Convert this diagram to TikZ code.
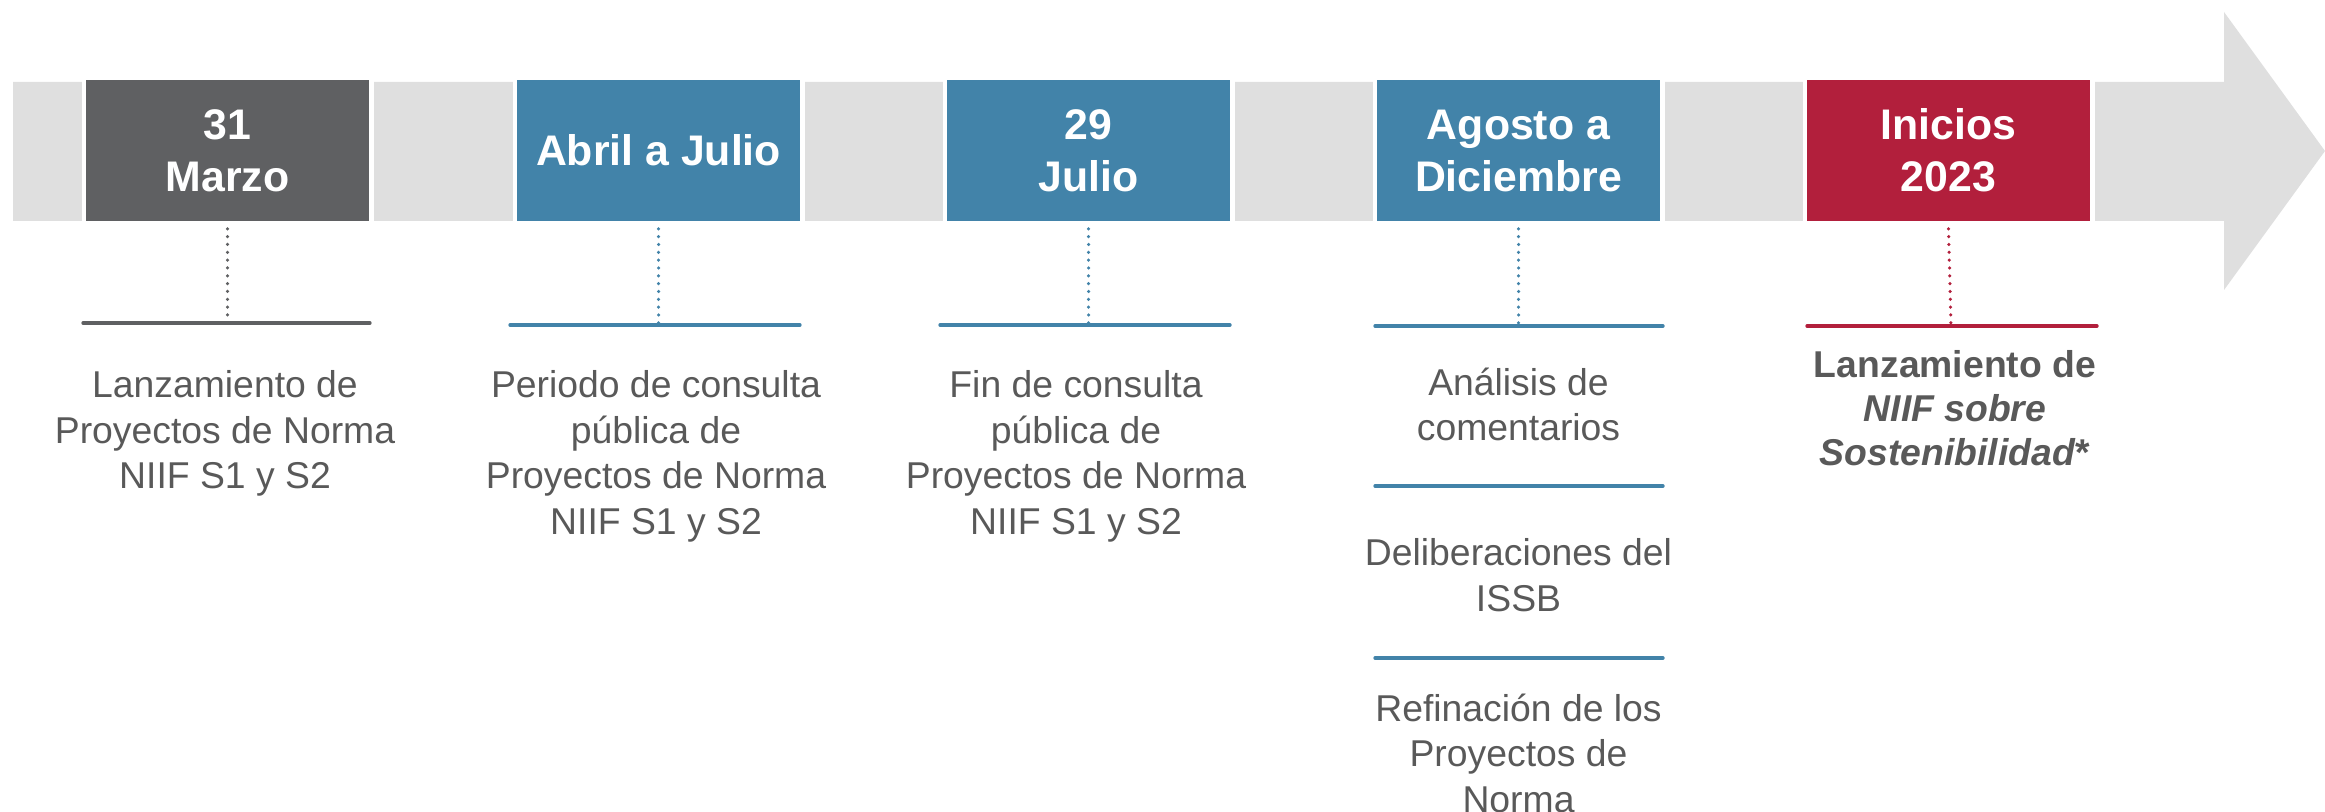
\documentclass[tikz,border=0pt]{standalone}
\usepackage{fontspec}
\setmainfont{Liberation Sans}
\definecolor{bandgray}{HTML}{DFDFDF}
\definecolor{darkbox}{HTML}{5F6062}
\definecolor{bluebox}{HTML}{4283A9}
\definecolor{redbox}{HTML}{B21F3C}
\definecolor{txtgray}{HTML}{595959}
\tikzset{
  datebox/.style={draw=white, line width=1.35pt, minimum width=86.25pt, minimum height=43.65pt,
    inner sep=0pt, align=center, text=white, font=\fontsize{12.84}{15.6}\selectfont\bfseries},
  desc/.style={align=center, text=txtgray, inner sep=0pt, font=\fontsize{11.2}{13.65}\selectfont},
  stem/.style={line width=1.05pt, line cap=round, dash pattern=on 0pt off 2.35pt},
  rule/.style={line width=1pt, line cap=round}
}
\begin{document}
\begin{tikzpicture}[x=0.3pt,y=-0.3pt]
\useasboundingbox (0,0) rectangle (2325,812);
% band arrow
\fill[bandgray] (13,82) -- (2224,82) -- (2224,12) -- (2325,151) -- (2224,290) -- (2224,221) -- (13,221) -- cycle;
% date boxes
\node[datebox, fill=darkbox] (b1) at (227.5,150.5) {31\\Marzo};
\node[datebox, fill=bluebox] (b2) at (658.5,150.5) {Abril a Julio};
\node[datebox, fill=bluebox] (b3) at (1088.5,150.5) {29\\Julio};
\node[datebox, fill=bluebox] (b4) at (1518.5,150.5) {Agosto a\\Diciembre};
\node[datebox, fill=redbox] (b5) at (1948.5,150.5) {Inicios\\2023};
% rule coordinates
\coordinate (r1) at (227.5,323);
\coordinate (r2) at (658.5,325);
\coordinate (r3) at (1088.5,325);
\coordinate (r4) at (1518.5,326);
\coordinate (r5) at (1951,326);
\draw[stem, darkbox] ([yshift=-1]b1.south) -- (r1);
\draw[stem, bluebox] ([yshift=-1]b2.south) -- (r2);
\draw[stem, bluebox] ([yshift=-1]b3.south) -- (r3);
\draw[stem, bluebox] ([yshift=-1]b4.south) -- (r4);
\draw[stem, redbox] ([yshift=-1]b5.south) -- (r5);
\draw[rule, darkbox] (83,323) -- (370,323);
\draw[rule, bluebox] (510,325) -- (800,325);
\draw[rule, bluebox] (940,325) -- (1230,325);
\draw[rule, bluebox] (1375,326) -- (1663,326);
\draw[rule, bluebox] (1375,486) -- (1663,486);
\draw[rule, bluebox] (1375,658) -- (1663,658);
\draw[rule, redbox] (1807,326) -- (2097,326);
% descriptions
\node[desc] (d1) at (225,433.5) {Lanzamiento de\\Proyectos de Norma\\NIIF S1 y S2};
\node[desc] (d2) at (656,456.5) {Periodo de consulta\\pública de\\Proyectos de Norma\\NIIF S1 y S2};
\node[desc] (d3) at (1076,456.5) {Fin de consulta\\pública de\\Proyectos de Norma\\NIIF S1 y S2};
\node[desc] (d4a) at (1518.5,404.5) {Análisis de\\comentarios};
\node[desc] (d4b) at (1518.5,575) {Deliberaciones del\\ISSB};
\node[desc] (d4c) at (1518.5,753) {Refinación de los\\Proyectos de\\Norma};
\node[desc, font=\fontsize{11.2}{13.2}\selectfont\bfseries] (d5) at (1955,408) {Lanzamiento de\\\textit{NIIF sobre}\\\textit{Sostenibilidad}*};
\end{tikzpicture}
\end{document}
